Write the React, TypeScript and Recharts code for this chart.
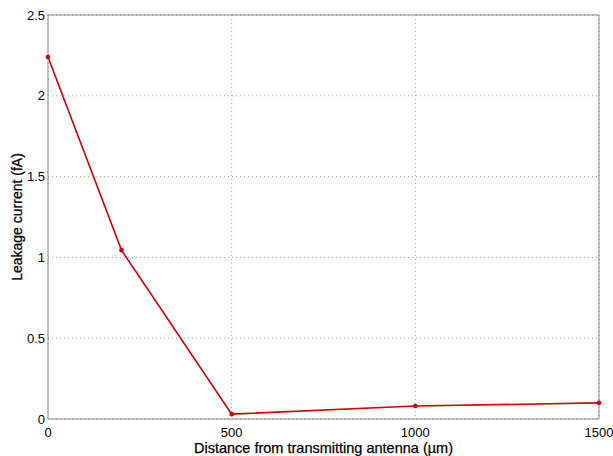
import { CartesianGrid, Label, Line, LineChart, ReferenceLine, XAxis, YAxis } from "recharts";

const distances = [0, 200, 500, 1000, 1500];
const leakage = [2.24, 1.045, 0.03, 0.08, 0.1];
const xTicks = [0, 500, 1000, 1500];
const yTicks = [0, 0.5, 1, 1.5, 2, 2.5];

const LINE_COLOR = "#d00000";
const AXIS_COLOR = "#8a8a8a";
const FONT = "'Liberation Sans', Arial, sans-serif";

const data = distances.map((d, i) => ({ d, v: leakage[i] }));

export default function App() {
  return (
    <div style={{ position: "absolute", left: 0, top: 0, background: "#fff" }}>
      <LineChart width={613} height={456} data={data} margin={{ top: 15, right: 14, bottom: 0, left: 0 }}>
        <CartesianGrid stroke="#a0a0a0" strokeDasharray="1 3" />
        <XAxis
          dataKey="d"
          type="number"
          domain={[0, 1500]}
          ticks={xTicks}
          height={37}
          stroke={AXIS_COLOR}
          tickLine={false}
          tick={{ fontSize: 13, fill: "#000", fontFamily: FONT }}
          tickMargin={3}
        >
          <Label
            value="Distance from transmitting antenna (µm)"
            position="insideBottom"
            offset={3}
            style={{ fontSize: 14.5, fill: "#000", fontFamily: FONT, stroke: "#000", strokeWidth: 0.25 }}
          />
        </XAxis>
        <YAxis
          type="number"
          domain={[0, 2.5]}
          ticks={yTicks}
          width={48}
          stroke={AXIS_COLOR}
          tickLine={false}
          tickSize={0}
          tick={{ fontSize: 13, fill: "#000", fontFamily: FONT }}
          tickMargin={3}
          allowDataOverflow
        >
          <Label
            value="Leakage current (fA)"
            angle={-90}
            position="insideLeft"
            offset={17}
            style={{ fontSize: 14, fill: "#000", fontFamily: FONT, textAnchor: "middle", stroke: "#000", strokeWidth: 0.25 }}
          />
        </YAxis>
        <ReferenceLine y={2.5} stroke={AXIS_COLOR} strokeDasharray="0" />
        <ReferenceLine x={1500} stroke={AXIS_COLOR} strokeDasharray="0" />
        <Line
          dataKey="v"
          type="linear"
          stroke={LINE_COLOR}
          strokeWidth={1.6}
          dot={{ r: 1.5, fill: LINE_COLOR, stroke: LINE_COLOR }}
          isAnimationActive={false}
        />
      </LineChart>
    </div>
  );
}
